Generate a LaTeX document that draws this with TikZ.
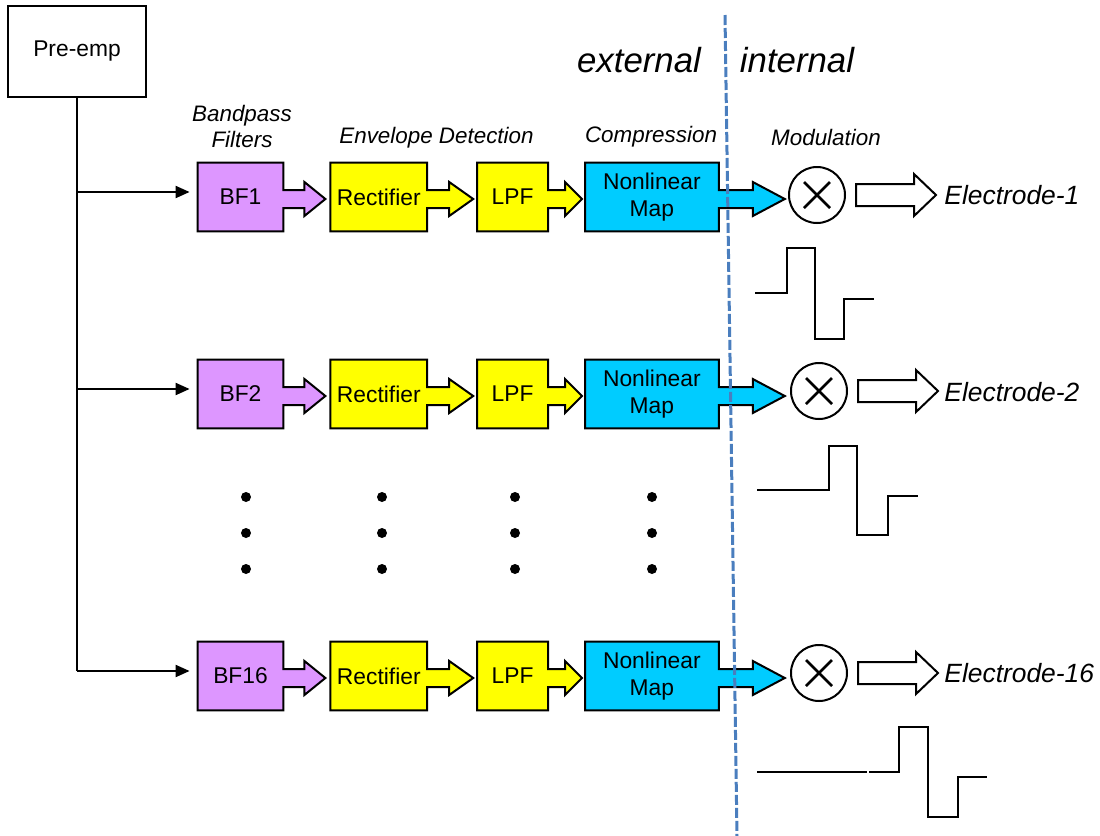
\documentclass[tikz,border=0pt]{standalone}
\usepackage{fontspec}
\setmainfont{Liberation Sans}
\usetikzlibrary{positioning, calc, backgrounds, arrows.meta}

\definecolor{bfviolet}{RGB}{221,150,255}
\definecolor{envyellow}{RGB}{255,255,0}
\definecolor{mapcyan}{RGB}{0,204,255}
\definecolor{splitblue}{RGB}{74,126,190}

\newcommand{\boxfont}{\fontsize{11.4}{13.5}\selectfont}
\newcommand{\tagfont}{\fontsize{11.2}{13}\selectfont\itshape}

% box with its own block arrow: name, colour, shaft length, head length
\newcommand{\blockarrow}[4]{%
	\draw[line width=1pt, fill=#2] (#1.north west) -- (#1.north east) -- ($(#1.east)+(0,-7)$)
	-- ++(#3,0) -- ++(0,-8) -- ++(#4,17) -- ++(-#4,17) -- ++(0,-8) -- ++(-#3,0)
	-- (#1.south east) -- (#1.south west) -- cycle;}
% hollow arrow leaving a modulator
\newcommand{\hollowarrow}[1]{%
	\draw[line width=1pt, fill=white] ([xshift=5pt]#1.east) ++(0,-11) -- ++(58,0) -- ++(0,-10)
	-- ++(22,21) -- ++(-22,21) -- ++(0,-10) -- ++(-58,0) -- cycle;}

\begin{document}
\begin{tikzpicture}[x=0.5pt, y=-0.5pt,
	blk/.style={minimum height=34pt, inner sep=0pt, font=\boxfont},
	mult/.style={circle, draw, line width=1pt, minimum size=28pt, inner sep=0pt,
		path picture={\draw[line width=1.4pt]
			([shift={(-13,-13)}]path picture bounding box.center) -- ([shift={(13,13)}]path picture bounding box.center)
			([shift={(-13,13)}]path picture bounding box.center) -- ([shift={(13,-13)}]path picture bounding box.center);}},
	elec/.style={anchor=west, inner sep=0pt, font=\fontsize{13.2}{15}\selectfont\itshape},
	wire/.style={line width=1pt},
	feed/.style={wire, -{Triangle[length=7pt, width=6pt]}, shorten >=4pt},
	pulse/.style={line width=0.9pt}]
	\useasboundingbox (0,0) rectangle (1100,836);

	\node[draw, line width=1pt, minimum width=69pt, minimum height=45.5pt, font=\boxfont] (pre) at (77,51) {Pre-emp};

	% channel 1
	\node[blk, minimum width=42.5pt] (bf1) at (240.5,197) {BF1};
	\node[blk, minimum width=48pt] (rect1)[right=23.5pt of bf1] {Rectifier};
	\node[blk, minimum width=35pt] (lpf1)[right=25pt of rect1] {LPF};
	\node[blk, minimum width=66.5pt, align=center] (map1)[right=18.5pt of lpf1] {Nonlinear\\Map};
	\node[mult] (mod1) at (817,195) {};
	\node[elec] (elec1) at (944,195) {Electrode-1};

	% channel 2
	\node[blk, minimum width=42.5pt] (bf2) at (240.5,394) {BF2};
	\node[blk, minimum width=48pt] (rect2)[right=23.5pt of bf2] {Rectifier};
	\node[blk, minimum width=35pt] (lpf2)[right=25pt of rect2] {LPF};
	\node[blk, minimum width=66.5pt, align=center] (map2)[right=18.5pt of lpf2] {Nonlinear\\Map};
	\node[mult] (mod2) at (819,391) {};
	\node[elec] (elec2) at (944,392) {Electrode-2};

	% channel 16
	\node[blk, minimum width=42.5pt] (bf16) at (240.5,676) {BF16};
	\node[blk, minimum width=48pt] (rect16)[right=23.5pt of bf16] {Rectifier};
	\node[blk, minimum width=35pt] (lpf16)[right=25pt of rect16] {LPF};
	\node[blk, minimum width=66.5pt, align=center] (map16)[right=18.5pt of lpf16] {Nonlinear\\Map};
	\node[mult] (mod16) at (819,673) {};
	\node[elec] (elec16) at (944,673) {Electrode-16};

	\begin{scope}[on background layer]
		\blockarrow{bf1}{bfviolet}{21}{21}
		\blockarrow{rect1}{envyellow}{22}{24}
		\blockarrow{lpf1}{envyellow}{17}{17}
		\blockarrow{map1}{mapcyan}{34}{32}
		\blockarrow{bf2}{bfviolet}{21}{21}
		\blockarrow{rect2}{envyellow}{22}{24}
		\blockarrow{lpf2}{envyellow}{17}{17}
		\blockarrow{map2}{mapcyan}{34}{32}
		\blockarrow{bf16}{bfviolet}{21}{21}
		\blockarrow{rect16}{envyellow}{22}{24}
		\blockarrow{lpf16}{envyellow}{17}{17}
		\blockarrow{map16}{mapcyan}{34}{32}
	\end{scope}

	\hollowarrow{mod1}
	\hollowarrow{mod2}
	\hollowarrow{mod16}

	% stage titles
	\node[font=\tagfont, align=center] (bandtag) at (242,126) {Bandpass\\Filters};
	\node[font=\tagfont] (envtag) at (436.5,138) {Envelope Detection};
	\node[font=\tagfont] (comptag) at (651,137) {Compression};
	\node[font=\tagfont] (modtag) at (826,137) {Modulation};
	\node[font=\fontsize{17.4}{20}\selectfont\itshape] (exttag) at (639,60) {external};
	\node[font=\fontsize{17.4}{20}\selectfont\itshape] (inttag) at (797,60) {internal};

	% splitter
	\coordinate (j1) at (77,192);
	\coordinate (j2) at (77,389);
	\coordinate (j16) at (77,671);
	\draw[wire] (pre) -- (j16);
	\draw[feed] (j1) -- (j1 -| bf1.west);
	\draw[feed] (j2) -- (j2 -| bf2.west);
	\draw[feed] (j16) -- (j16 -| bf16.west);

	% skipped channels
	\fill (246,497) circle (2.5pt) (246,533) circle (2.5pt) (246,569) circle (2.5pt);
	\fill (382,497) circle (2.5pt) (382,533) circle (2.5pt) (382,569) circle (2.5pt);
	\fill (515,497) circle (2.5pt) (515,533) circle (2.5pt) (515,569) circle (2.5pt);
	\fill (652,497) circle (2.5pt) (652,533) circle (2.5pt) (652,569) circle (2.5pt);

	% pulse carriers
	\draw[pulse] (755,293) -- (787,293) -- (787,248) -- (815,248) -- (815,339) -- (844,339) -- (844,299) -- (874,299);
	\draw[pulse] (757,490) -- (829,490) -- (829,446) -- (857,446) -- (857,535) -- (888,535) -- (888,496) -- (918,496);
	\draw[pulse] (757,772) -- (867,772);
	\draw[pulse] (869,772) -- (899,772) -- (899,727) -- (928,727) -- (928,817) -- (958,817) -- (958,777) -- (987,777);

	% external / internal border
	\draw[splitblue, line width=1.5pt, dash pattern=on 5pt off 1.5pt] (725,15) -- (737,836);
\end{tikzpicture}
\end{document}
